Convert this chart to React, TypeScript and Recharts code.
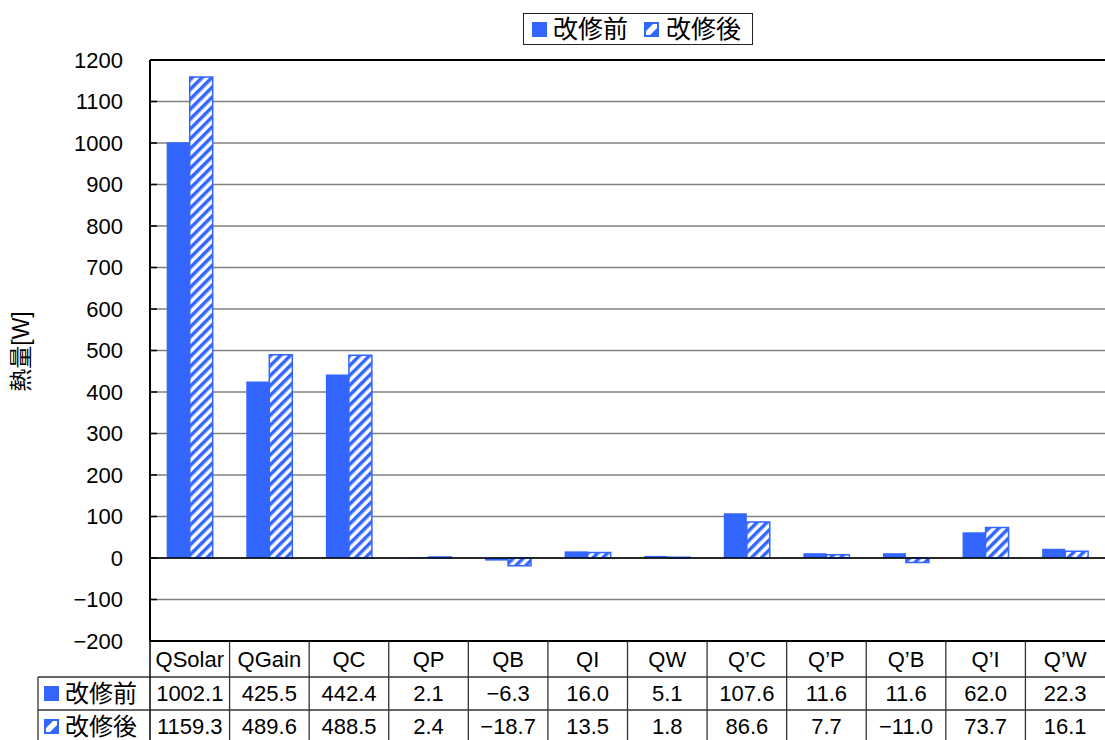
import React from 'react';
import { BarChart, Bar, XAxis, YAxis, CartesianGrid, ReferenceLine } from 'recharts';

// Heat balance components before / after renovation [W]
const categories = ['QSolar', 'QGain', 'QC', 'QP', 'QB', 'QI', 'QW', 'Q’C', 'Q’P', 'Q’B', 'Q’I', 'Q’W'];
const beforeValues = [1002.1, 425.5, 442.4, 2.1, -6.3, 16.0, 5.1, 107.6, 11.6, 11.6, 62.0, 22.3];
const afterValues = [1159.3, 489.6, 488.5, 2.4, -18.7, 13.5, 1.8, 86.6, 7.7, -11.0, 73.7, 16.1];
const seriesNames = ['改修前', '改修後'];
const yTicks = [-200, -100, 0, 100, 200, 300, 400, 500, 600, 700, 800, 900, 1000, 1100, 1200];
const yLabel = '熱量[W]';

const data = categories.map((name, i) => ({ name, before: beforeValues[i], after: afterValues[i] }));

const W = 1105;
const H = 740;
const AXIS_W = 150;
const TABLE_H = 99;
const EXTRA = 40;
const BAND = (W - AXIS_W) / categories.length;
const BLUE = '#3366FF';
const LINE = '#333333';
const FONT = '"Liberation Sans", Arial, "Noto Sans CJK JP", sans-serif';

const fmt = (v: number) => (v < 0 ? '−' : '') + Math.abs(v).toFixed(1);

const SolidKey = ({ x, y, s }: { x: number; y: number; s: number }) => (
  <rect x={x} y={y} width={s} height={s} fill={BLUE} />
);

const HatchKey = ({ x, y, s }: { x: number; y: number; s: number }) => (
  <g>
    <rect x={x + 0.75} y={y + 0.75} width={s - 1.5} height={s - 1.5} fill={BLUE} stroke={BLUE} strokeWidth={1.5} />
    <polygon
      points={`${x + 2},${y + s - 2} ${x + 2},${y + s - 6} ${x + s - 6},${y + 2} ${x + s - 2},${y + 2} ${x + s - 2},${y + 6} ${x + 6},${y + s - 2}`}
      fill="#fff"
    />
  </g>
);

const YTick = (props: any) => {
  const { x, y, payload } = props;
  return (
    <g>
      <line x1={x} x2={x + 7} y1={y} y2={y} stroke="#000" strokeWidth={1.5} />
      <text x={x - 27} y={y} dy="0.36em" textAnchor="end" fontSize={22} fontFamily={FONT} fill="#000">
        {payload.value < 0 ? '−' + Math.abs(payload.value) : payload.value}
      </text>
    </g>
  );
};

// Data table drawn under each category
const TableTick = (props: any) => {
  const { x, y, payload, index } = props;
  const i = typeof payload.index === 'number' ? payload.index : index;
  const left = x - BAND / 2;
  const right = x + BAND / 2;
  const r1 = y + 36;
  const r2 = y + 69;
  const bottom = y + TABLE_H + 2;
  const txt = { fontSize: 22, fontFamily: FONT, fill: '#000', textAnchor: 'middle' as const };
  return (
    <g>
      <line x1={left} x2={right} y1={r1} y2={r1} stroke={LINE} strokeWidth={1.3} />
      <line x1={left} x2={right} y1={r2} y2={r2} stroke={LINE} strokeWidth={1.3} />
      {i < categories.length - 1 && (
        <line x1={right} x2={right} y1={y} y2={bottom} stroke={LINE} strokeWidth={1.3} />
      )}
      <text x={x} y={y + 18} dy="0.36em" {...txt}>{payload.value}</text>
      <text x={x} y={y + 52.5} dy="0.36em" {...txt}>{fmt(beforeValues[i])}</text>
      <text x={x} y={y + 85} dy="0.36em" {...txt}>{fmt(afterValues[i])}</text>
      {i === 0 && (
        <g>
          <line x1={left} x2={left} y1={y} y2={bottom} stroke="#000" strokeWidth={1.5} />
          <line x1={38} x2={left} y1={r1} y2={r1} stroke={LINE} strokeWidth={1.3} />
          <line x1={38} x2={left} y1={r2} y2={r2} stroke={LINE} strokeWidth={1.3} />
          <line x1={38} x2={38} y1={r1} y2={bottom} stroke={LINE} strokeWidth={1.3} />
          <SolidKey x={44} y={r1 + 9} s={15} />
          <text x={65} y={y + 52.5} dy="0.36em" fontSize={24} fontFamily={FONT} fill="#000">{seriesNames[0]}</text>
          <HatchKey x={44} y={r2 + 9} s={15} />
          <text x={65} y={y + 85} dy="0.36em" fontSize={24} fontFamily={FONT} fill="#000">{seriesNames[1]}</text>
        </g>
      )}
    </g>
  );
};

const YLabel = (props: any) => {
  const vb = props.viewBox || { y: 60, height: 581 };
  const cx = 21;
  const cy = vb.y + vb.height / 2 + 1;
  return (
    <text
      x={cx}
      y={cy}
      dy="0.36em"
      transform={`rotate(-90, ${cx}, ${cy})`}
      textAnchor="middle"
      fontSize={23}
      fontFamily={FONT}
      fill="#000"
    >
      {yLabel}
    </text>
  );
};

const Legend = () => (
  <div
    style={{
      position: 'absolute',
      left: 523,
      top: 13,
      width: 230,
      height: 32,
      boxSizing: 'border-box',
      border: '1.5px solid #222',
      background: '#fff',
      display: 'flex',
      alignItems: 'center',
      fontFamily: FONT,
      fontSize: 25,
      color: '#000',
      lineHeight: '30px',
    }}
  >
    <svg width={15} height={15} style={{ marginLeft: 8 }}>
      <SolidKey x={0} y={0} s={15} />
    </svg>
    <span style={{ marginLeft: 6 }}>{seriesNames[0]}</span>
    <svg width={15} height={15} style={{ marginLeft: 16 }}>
      <HatchKey x={0} y={0} s={15} />
    </svg>
    <span style={{ marginLeft: 7 }}>{seriesNames[1]}</span>
  </div>
);

export default function App() {
  return (
    <div style={{ position: 'absolute', left: 0, top: 0, width: W, height: H, background: '#fff', overflow: 'hidden' }}>
      <BarChart
        width={W + EXTRA}
        height={H}
        data={data}
        margin={{ top: 60, right: EXTRA, bottom: 0, left: 0 }}
        barCategoryGap="21%"
        barGap={0}
      >
        <defs>
          <pattern id="hatchStripe" patternUnits="userSpaceOnUse" width={7} height={7} patternTransform="rotate(45)">
            <rect x={0} y={0} width={7} height={7} fill="#fff" />
            <rect x={0} y={0} width={3.5} height={7} fill={BLUE} />
          </pattern>
        </defs>
        <CartesianGrid vertical={false} stroke="#808080" strokeWidth={1.6} />
        <XAxis
          dataKey="name"
          interval={0}
          height={TABLE_H}
          tickLine={false}
          tickSize={0}
          tickMargin={0}
          axisLine={{ stroke: '#000', strokeWidth: 2 }}
          tick={<TableTick />}
        />
        <YAxis
          width={AXIS_W}
          domain={[-200, 1200]}
          ticks={yTicks}
          interval={0}
          tickLine={false}
          tickSize={0}
          tickMargin={0}
          axisLine={{ stroke: '#000', strokeWidth: 2 }}
          tick={<YTick />}
          label={{ value: yLabel, content: <YLabel /> }}
        />
        <ReferenceLine y={1200} stroke="#000" strokeWidth={2} />
        <ReferenceLine y={0} stroke="#000" strokeWidth={1.3} />
        <Bar dataKey="before" name={seriesNames[0]} fill={BLUE} isAnimationActive={false} />
        <Bar
          dataKey="after"
          name={seriesNames[1]}
          fill="url(#hatchStripe)"
          stroke={BLUE}
          strokeWidth={1.5}
          isAnimationActive={false}
        />
      </BarChart>
      <Legend />
    </div>
  );
}
